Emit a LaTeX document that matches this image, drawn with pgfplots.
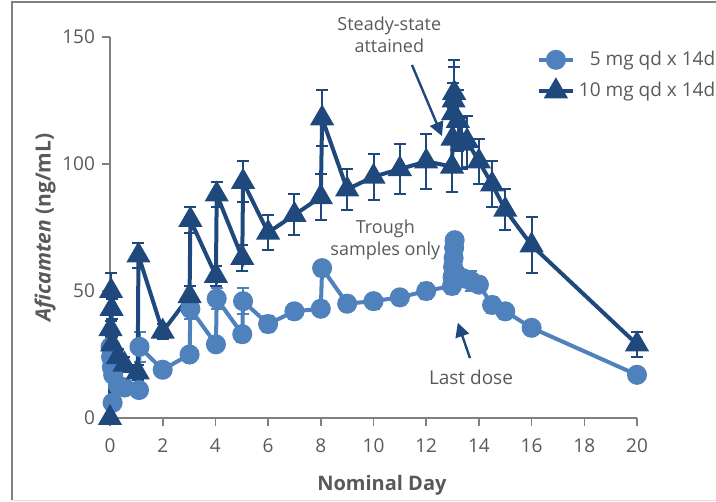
\documentclass[border=0pt]{standalone}
\usepackage{fontspec}
\setmainfont{Open Sans}
\usepackage{pgfplots}
\pgfplotsset{compat=1.18}
\usetikzlibrary{arrows.meta}

\definecolor{lightser}{RGB}{79,129,189}
\definecolor{darkser}{RGB}{31,73,125}
\definecolor{txtgray}{RGB}{89,89,89}
\definecolor{axgray}{RGB}{128,128,128}

% 5 mg qd x 14d: day, conc, sd
\pgfplotstableread{
t c e
0.10 6 2
0.02 28 3
0.04 24 3
0.07 20 3
0.12 17 3
0.30 13 2
0.55 12 2
1.10 11 2
1.12 28 6
2.00 19 2
3.02 25 2
3.05 43 4
4.02 29 2
4.05 47 4
5.02 33 3
5.05 46 5
6.00 37 3
7.00 42 3
8.00 43 3
8.05 59 3
9.00 45 3
10.00 46 3
11.00 47.5 3
12.00 50 3
12.98 52 3
13.00 55.5 3
13.02 59.5 3
13.04 63 3
13.06 67 3
13.08 70 3
13.20 56 3
13.40 55 3
13.70 54 4
14.00 52.5 3
14.50 44.5 3
15.00 42 3
16.00 35.5 2
20.00 17 1
}\lowdose

% 10 mg qd x 14d
\pgfplotstableread{
t c e
0.00 0 0
0.02 35 3
0.04 50 7
0.06 43 4
0.08 29 3
0.30 24 3
0.55 21 3
1.05 18 3
1.08 64 5
2.00 34 3
3.02 48 4
3.05 78 5
4.02 56 4
4.05 88 5
5.02 63 5
5.05 93 8
6.00 73 7
7.00 80 8
8.00 87 9
8.05 118 11
9.00 90 8
10.00 95 9
11.00 98 10
12.00 101 11
12.98 99 10
13.00 110 12
13.02 120 12
13.04 125 13
13.06 128 13
13.20 117 12
13.35 108 10
13.55 109 10
14.00 101 9
14.50 92 9
15.00 82 8
16.00 68 11
20.00 29 5
}\highdose

\begin{document}
\begin{tikzpicture}
\useasboundingbox (0,0) rectangle (358pt,251pt);
\draw[axgray, line width=0.8pt] (6pt,0.8pt) -- (6pt,250pt) -- (360pt,250pt);
\draw[black!12, line width=0.6pt] (6pt,0.8pt) -- (360pt,0.8pt);
\begin{axis}[
    at={(55pt,42pt)}, anchor=origin,
    scale only axis,
    width=263.5pt, height=190.5pt,
    xmin=0, xmax=20, ymin=0, ymax=150,
    axis x line*=bottom, axis y line*=left,
    axis line style={axgray, line width=0.8pt},
    tick style={axgray, line width=0.8pt},
    tick align=outside,
    major tick length=4pt,
    xtick={0,2,...,20}, ytick={0,50,100,150},
    ticklabel style={font=\fontsize{9.5}{11}\selectfont, text=txtgray},
    /pgf/number format/assume math mode=true,
    xticklabel style={yshift=-3pt},
    clip=false,
    xlabel={\textbf{Nominal Day}},
    xlabel style={font=\fontsize{10}{12}\selectfont, text=txtgray, at={(axis description cs:0.516,-0.176)}, anchor=center},
    ylabel={\textbf{\textit{Aficamten} (ng/mL)}},
    ylabel style={font=\fontsize{10.5}{12}\selectfont, text=txtgray, at={(axis description cs:-0.123,0.5)}, anchor=center},
    legend style={draw=none, fill=none, at={(1.168,0.985)}, anchor=north east,
      font=\fontsize{9.5}{11}\selectfont, text=txtgray, row sep=3pt},
    legend cell align=right,
  ]
  \addplot[lightser, line width=2pt, mark=*, mark size=4pt,
    error bars/.cd, y dir=both, y explicit,
    error bar style={line width=1pt, lightser},
    error mark options={rotate=90, mark size=3pt, line width=1pt, lightser}]
    table[x=t, y=c, y error=e] {\lowdose};
  \addlegendentry{\ 5 mg qd x 14d}
  \addplot[darkser, line width=2pt, mark=triangle*, mark size=5pt,
    error bars/.cd, y dir=both, y explicit,
    error bar style={line width=1pt, darkser},
    error mark options={rotate=90, mark size=3pt, line width=1pt, darkser}]
    table[x=t, y=c, y error=e] {\highdose};
  \addlegendentry{10 mg qd x 14d}

  \node[align=center, text=txtgray, font=\fontsize{9}{11}\selectfont] at (axis cs:10.6,151) {Steady-state\\attained};
  \draw[darkser, line width=1.2pt, -{Triangle[length=7pt,width=7pt]}] (axis cs:11.46,139) -- (axis cs:12.6,111);
  \node[align=center, text=txtgray, font=\fontsize{9}{11}\selectfont] at (axis cs:10.45,70) {Trough\\samples only};
  \node[text=txtgray, font=\fontsize{9.5}{11}\selectfont] at (axis cs:13.7,16) {Last dose};
  \draw[darkser, line width=1.2pt, -{Triangle[length=7pt,width=7pt]}] (axis cs:13.66,23.6) -- (axis cs:13.2,37.5);
\end{axis}
\end{tikzpicture}
\end{document}
